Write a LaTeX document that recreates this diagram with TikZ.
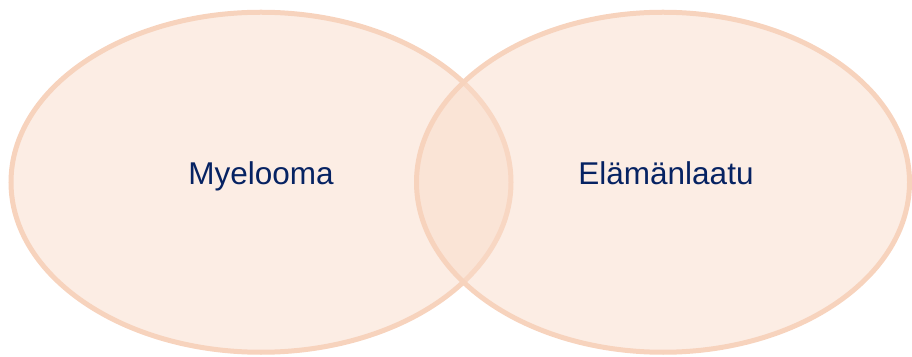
\documentclass[tikz,border=0pt]{standalone}
\usepackage{fontspec}
\setmainfont{Liberation Sans}
\definecolor{vfill}{HTML}{F9DBC9}
\definecolor{vline}{HTML}{F7D3BD}
\definecolor{vtext}{HTML}{062262}
\begin{document}
\begin{tikzpicture}[x=1pt,y=1pt,
  venn/.style={draw=vline,line width=5pt,fill=vfill,fill opacity=0.5,draw opacity=1},
  lbl/.style={text=vtext,font=\fontsize{31.5}{33}\selectfont,inner sep=0pt}]
\useasboundingbox (0,0) rectangle (912,356);
\path[venn] (261,173.75) ellipse [x radius=250, y radius=170];
\path[venn] (663,173.75) ellipse [x radius=246.5, y radius=170];
\node[lbl,anchor=base] (a) at (261,171) {Myelooma};
\node[lbl,anchor=base] (b) at (666,171) {Elämänlaatu};
\end{tikzpicture}
\end{document}
